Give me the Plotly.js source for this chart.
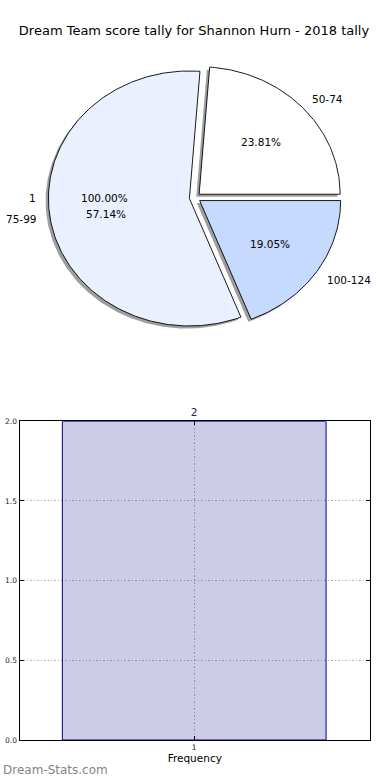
<!DOCTYPE html>
<html><head><meta charset="utf-8">
<script src="https://cdn.plot.ly/plotly-3.0.1.min.js"></script>
<style>body{margin:0;padding:0;background:#fff}#chart{width:390px;height:780px}</style>
</head><body><div id="chart"></div>
<script>
// ---- data ----
const chartTitle = "Dream Team score tally for Shannon Hurn - 2018 tally";
const pieLabels = ["50-74", "75-99", "100-124"];
const piePercents = [23.81, 57.14, 19.05];
const pieColors = ["#ffffff", "#eaf0fe", "#c6d9fe"];
const pieExplode = [0.04, 0.04, 0.04];
const hiddenLabel = "1";
const hiddenPct = "100.00%";
const barCategories = [1];
const barValues = [2];
const yTickVals = [0, 0.5, 1.0, 1.5, 2.0];
const yTickText = ["0.0", "0.5", "1.0", "1.5", "2.0"];
const xTickText = ["1"];

// ---- geometry helpers (pie axes: unit radius) ----
const W = 390, H = 780;
const pieCx = 195, pieCy = 197.7, pieSx = 141, pieSy = 127.5; // pixels per unit
const pieTop = 40, pieBot = 360;
const pxX = p => (p - pieCx) / pieSx;
const pxY = p => (pieCy - p) / pieSy;

const traces = [];
const shadows = [];
const wedges = [];
const annotations = [];
let cum = 0;
piePercents.forEach((pct, i) => {
  const t1 = cum / 100 * 360, t2 = (cum + pct) / 100 * 360;
  cum += pct;
  const mid = (t1 + t2) / 2 * Math.PI / 180;
  const ex = pieExplode[i] * Math.cos(mid), ey = pieExplode[i] * Math.sin(mid);
  const xs = [ex], ys = [ey];
  const n = Math.max(2, Math.ceil((t2 - t1) / 1));
  for (let k = 0; k <= n; k++) {
    const a = (t1 + (t2 - t1) * k / n) * Math.PI / 180;
    xs.push(ex + Math.cos(a)); ys.push(ey + Math.sin(a));
  }
  xs.push(ex); ys.push(ey);
  shadows.push({type: 'scatter', mode: 'lines', x: xs.map(v => v - 0.02), y: ys.map(v => v - 0.02),
    fill: 'toself', fillcolor: 'rgba(60,62,66,0.5)', line: {width: 0, color: 'rgba(0,0,0,0)'},
    hoverinfo: 'skip', showlegend: false, xaxis: 'x', yaxis: 'y'});
  wedges.push({type: 'scatter', mode: 'lines', x: xs, y: ys, fill: 'toself',
    fillcolor: pieColors[i], line: {width: 0.9, color: '#000'},
    hoverinfo: 'skip', showlegend: false, xaxis: 'x', yaxis: 'y', name: pieLabels[i]});
  const cosm = Math.cos(mid), sinm = Math.sin(mid);
  annotations.push({xref: 'x', yref: 'y', x: ex + 1.1 * cosm, y: ey + 1.1 * sinm,
    text: pieLabels[i], showarrow: false, xanchor: cosm > 0 ? 'left' : 'right', yanchor: 'middle',
    xshift: cosm > 0 ? -3 : 3, font: {size: 10.5, color: '#000'}});
  annotations.push({xref: 'x', yref: 'y', x: ex + 0.6 * cosm, y: ey + 0.6 * sinm + (i === 1 ? -0.03 : 0),
    text: pct.toFixed(2) + '%', showarrow: false, xanchor: 'center', yanchor: 'middle',
    font: {size: 10.5, color: '#000'}});
});
traces.push(...shadows, ...wedges);
annotations.push({xref: 'x', yref: 'y', x: pxX(36), y: pxY(198), text: hiddenLabel, showarrow: false,
  xanchor: 'right', yanchor: 'middle', xshift: 2, font: {size: 10.5, color: '#000'}});
annotations.push({xref: 'x', yref: 'y', x: pxX(104), y: pxY(198), text: hiddenPct, showarrow: false,
  xanchor: 'center', yanchor: 'middle', font: {size: 10.5, color: '#000'}});

// bar
traces.push({type: 'bar', x: barCategories, y: barValues, width: 0.8,
  marker: {color: 'rgba(0,0,128,0.2)', line: {color: '#00008b', width: 1}},
  text: barValues.map(String), textposition: 'outside', cliponaxis: false,
  textfont: {size: 10.5, color: '#1c2566'}, hoverinfo: 'skip', showlegend: false,
  xaxis: 'x2', yaxis: 'y2'});

annotations.push({xref: 'paper', yref: 'paper', x: 1 / W, y: 1 - 770 / H, text: 'Dream-Stats.com',
  showarrow: false, xanchor: 'left', yanchor: 'middle',
  font: {size: 12, color: '#858585', family: 'DejaVu Sans'}});

const barL = 19.5, barR = 370, barTop = 421.3, barBot = 740;
const ppu = 263.7 / 0.8, barCx = 194.2;

const gridStyle = {showgrid: true, gridcolor: '#b5b5b5', griddash: '1.5px,2px', gridwidth: 1, zeroline: false};

const layout = {
  width: W, height: H, margin: {l: 0, r: 0, t: 0, b: 0},
  paper_bgcolor: '#fff', plot_bgcolor: 'rgba(0,0,0,0)',
  font: {family: 'DejaVu Sans', color: '#000'},
  showlegend: false,
  title: {text: chartTitle, x: 194 / W, xanchor: 'center', y: 1 - 30 / H, yanchor: 'middle',
    font: {size: 13, color: '#000', family: 'DejaVu Sans'}},
  xaxis: {domain: [0, 1], range: [pxX(0), pxX(W)], visible: false, fixedrange: true},
  yaxis: {domain: [1 - pieBot / H, 1 - pieTop / H], range: [pxY(pieBot), pxY(pieTop)], visible: false, fixedrange: true},
  xaxis2: Object.assign({anchor: 'y2', domain: [barL / W, barR / W],
    range: [1 - (barCx - barL) / ppu, 1 + (barR - barCx) / ppu],
    tickvals: barCategories, ticktext: xTickText, tickfont: {size: 7.5, color: '#222'},
    ticks: 'inside', ticklen: 4, tickcolor: '#000',
    showline: true, linecolor: '#000', linewidth: 1, mirror: 'ticks',
    title: {text: 'Frequency', font: {size: 10.5, color: '#000'}, standoff: 2}}, gridStyle),
  yaxis2: Object.assign({anchor: 'x2', domain: [1 - barBot / H, 1 - barTop / H], range: [0, 2],
    tickvals: yTickVals, ticktext: yTickText, tickfont: {size: 7.5, color: '#222'},
    ticks: 'inside', ticklen: 4, tickcolor: '#000',
    showline: true, linecolor: '#000', linewidth: 1, mirror: 'ticks'}, gridStyle),
  bargap: 0,
  annotations: annotations
};

Plotly.newPlot('chart', traces, layout, {staticPlot: true, displayModeBar: false});
</script>
</body></html>
